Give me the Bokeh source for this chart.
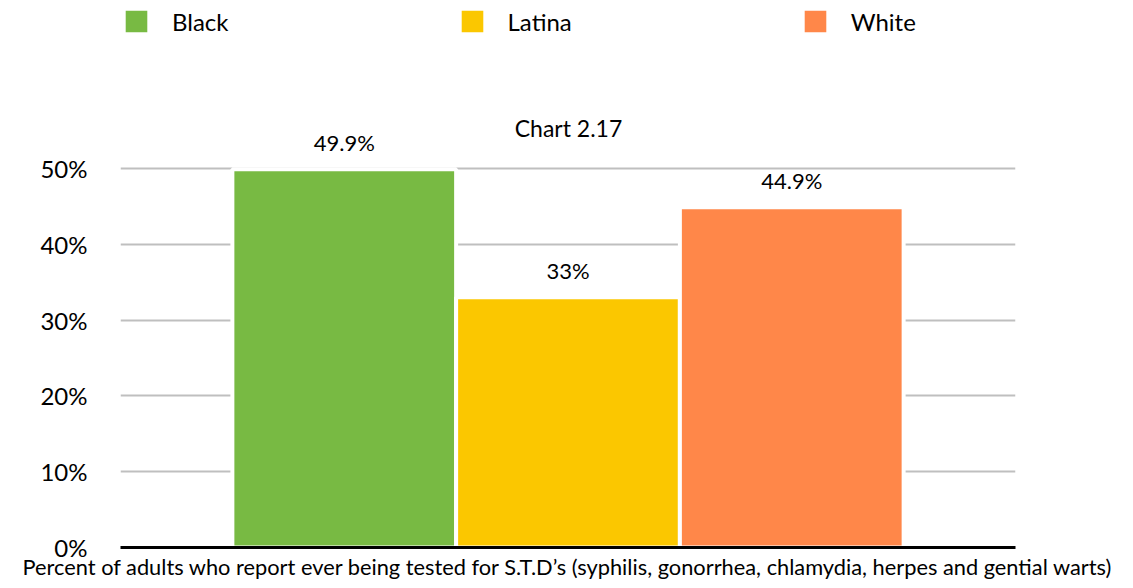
from bokeh.plotting import figure
from bokeh.models import (ColumnDataSource, FactorRange, LabelSet, Label, Legend,
                          LegendItem, NumeralTickFormatter, FixedTicker, Range1d)
from bokeh.core.properties import value
from bokeh.embed import file_html
from bokeh.resources import INLINE

# ---- data ----
categories = ["Black", "Latina", "White"]
values = [0.499, 0.33, 0.449]
value_labels = ["49.9%", "33%", "44.9%"]
colors = ["#78BA43", "#FBC700", "#FF8749"]
y_ticks = [0.0, 0.1, 0.2, 0.3, 0.4, 0.5]
title_text = "Chart 2.17"
x_label = ("Percent of adults who report ever being tested for S.T.D\u2019s "
           "(syphilis, gonorrhea, chlamydia, herpes and gential warts)")

FONT = "Lato"

FRAME_W, FRAME_H = 895, 547
# extra headroom above the 50% line for title, value labels and legend
Y_END = 0.5 * FRAME_H / 379

source = ColumnDataSource(dict(cat=categories, val=values, lab=value_labels, color=colors))

p = figure(
    frame_width=FRAME_W, frame_height=FRAME_H,
    x_range=FactorRange(factors=categories, range_padding=0.5, range_padding_units="absolute"),
    y_range=Range1d(0, Y_END),
    output_backend="svg", toolbar_location=None,
    min_border_left=120, min_border_right=102, min_border_top=0, min_border_bottom=0,
)
p.outline_line_color = None
p.background_fill_color = "white"
p.border_fill_color = "white"

r = p.vbar(x="cat", top="val", width=1.0, source=source,
           fill_color="color", line_color="white", line_width=4)

# grid
p.xgrid.grid_line_color = None
p.ygrid.grid_line_color = "#BFBFBF"
p.ygrid.grid_line_width = 2
p.ygrid.level = "underlay"

# y axis
p.yaxis.ticker = FixedTicker(ticks=y_ticks)
p.yaxis.formatter = NumeralTickFormatter(format="0%")
p.yaxis.axis_line_color = None
p.yaxis.major_tick_line_color = None
p.yaxis.major_tick_out = 0
p.yaxis.major_tick_in = 0
p.yaxis.minor_tick_line_color = None
p.yaxis.major_label_text_font = FONT
p.yaxis.major_label_text_font_size = "24px"
p.yaxis.major_label_text_color = "black"
p.yaxis.major_label_standoff = 33

# x axis
p.xaxis.ticker = FixedTicker(ticks=[])
p.xaxis.axis_line_color = "black"
p.xaxis.axis_line_width = 3
p.xaxis.major_tick_line_color = None
p.xaxis.major_tick_out = 0
p.xaxis.major_tick_in = 0
p.xaxis.minor_tick_line_color = None
p.xaxis.major_label_text_font_size = "0px"
p.xaxis.major_label_standoff = 0
p.xaxis.axis_label = x_label
p.xaxis.axis_label_text_font = FONT
p.xaxis.axis_label_text_font_size = "21.8px"
p.xaxis.axis_label_text_font_style = "normal"
p.xaxis.axis_label_text_color = "black"
p.xaxis.axis_label_standoff = 5

# value labels
labels = LabelSet(x="cat", y="val", text="lab", source=source,
                  text_align="center", text_baseline="alphabetic", y_offset=18,
                  text_font=value(FONT), text_font_size=value("22px"), text_color="black")
p.add_layout(labels)

# title
title = Label(x=448, y=FRAME_H - 127, x_units="screen", y_units="screen",
              text=title_text, text_align="center", text_baseline="middle",
              text_font=FONT, text_font_size="23px", text_color="black")
p.add_layout(title)

# legend
items = [LegendItem(label=c, renderers=[r], index=i) for i, c in enumerate(categories)]
legend = Legend(items=items, orientation="horizontal", location=(0, FRAME_H - 21 - 16),
                glyph_width=32, glyph_height=32, label_standoff=20, spacing=227,
                padding=0, margin=0, border_line_color=None, background_fill_alpha=0,
                label_text_font=FONT, label_text_font_size="24px", label_text_color="black")
p.add_layout(legend)

open("out.html", "w").write(file_html(p, INLINE))
